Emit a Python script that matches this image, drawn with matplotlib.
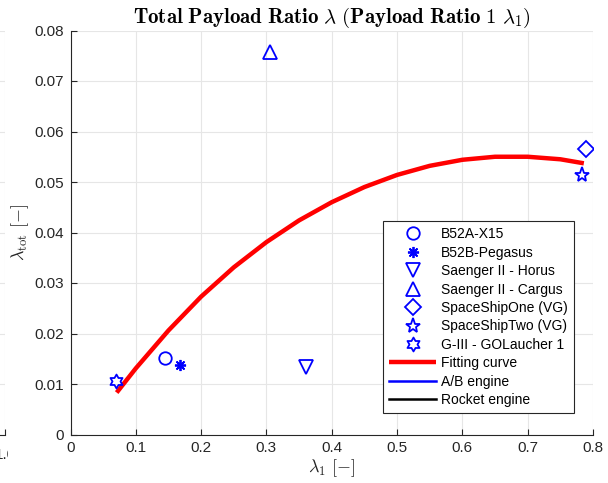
import matplotlib
matplotlib.use("Agg")
import matplotlib.pyplot as plt
import numpy as np
from matplotlib.path import Path
from matplotlib.lines import Line2D
from matplotlib.transforms import Bbox, TransformedBbox, IdentityTransform

plt.rcParams['mathtext.fontset'] = 'cm'
plt.rcParams['font.family'] = ['Liberation Sans', 'DejaVu Sans']

# ---- data ----
names = ["B52A-X15", "B52B-Pegasus", "Saenger II - Horus", "Saenger II - Cargus",
         "SpaceShipOne (VG)", "SpaceShipTwo (VG)", "G-III - GOLaucher 1"]
lam1 = [0.144, 0.168, 0.361, 0.3055, 0.790, 0.783, 0.069]
lamtot = [0.0152, 0.0138, 0.0134, 0.0757, 0.0565, 0.0514, 0.0106]

fit_x = [0.0707, 0.10, 0.15, 0.20, 0.25, 0.30, 0.35, 0.40, 0.45, 0.50,
         0.55, 0.60, 0.65, 0.70, 0.75, 0.786]
fit_y = [0.0083, 0.0131, 0.0206, 0.0273, 0.0331, 0.0381, 0.0424, 0.0460, 0.0490, 0.0514,
         0.0532, 0.0544, 0.0550, 0.0550, 0.0545, 0.0537]

xticks = [0, 0.1, 0.2, 0.3, 0.4, 0.5, 0.6, 0.7, 0.8]
xticklabels = ["0", "0.1", "0.2", "0.3", "0.4", "0.5", "0.6", "0.7", "0.8"]
yticks = [0, 0.01, 0.02, 0.03, 0.04, 0.05, 0.06, 0.07, 0.08]
yticklabels = ["0", "0.01", "0.02", "0.03", "0.04", "0.05", "0.06", "0.07", "0.08"]

hexagram = Path.unit_regular_star(6, 0.57735)
markers = ['o', (8, 2, 0), 'v', '^', 'D', '*', hexagram]
msizes = [9, 8, 10, 10, 8, 11, 10]

DARK = '#262626'
GRID = '#e6e6e6'
BLUE = '#0000ff'

fig = plt.figure(figsize=(6.08, 4.83), dpi=100)
W, H = 608, 483
left, right, top, bottom = 70.5, 593, 30.5, 434.5
ax = fig.add_axes([left / W, (H - bottom) / H, (right - left) / W, (bottom - top) / H])

# neighbouring subplot fragment
ax0 = fig.add_axes([-0.5, (H - bottom) / H, 0.5 + 5 / W, (bottom - top) / H])
ax0.set_xlim(0, 1)
ax0.set_ylim(0, 0.08)
ax0.set_xticks([0.5, 1.0])
ax0.set_yticks(yticks)
ax0.set_xticklabels([])
ax0.set_yticklabels([])
ax0.grid(True, color=GRID, linewidth=0.8)
for s in ['top', 'right', 'left']:
    ax0.spines[s].set_visible(False)
ax0.spines['bottom'].set_color(DARK)
ax0.tick_params(direction='in', length=4, color=DARK, left=False)
t = fig.text(5 / W, (H - 455) / H, "1.0", ha='center', va='center', fontsize=11, color=DARK)
t.set_clip_on(True)
t.set_clip_box(TransformedBbox(Bbox([[0, 0], [8, H]]), IdentityTransform()))

# main plot
for i in range(len(names)):
    ax.plot(lam1[i], lamtot[i], linestyle='none', marker=markers[i], markersize=msizes[i],
            markerfacecolor='none', markeredgecolor=BLUE, markeredgewidth=1.3,
            label=names[i], zorder=4)
ax.plot(fit_x, fit_y, color='#ff0000', linewidth=3.2, label='Fitting curve', zorder=3,
        solid_capstyle='butt', solid_joinstyle='round')

ax.set_xlim(0, 0.8)
ax.set_ylim(0, 0.08)
ax.set_xticks(xticks)
ax.set_xticklabels(xticklabels)
ax.set_yticks(yticks)
ax.set_yticklabels(yticklabels)
ax.grid(True, color=GRID, linewidth=0.8)
ax.set_axisbelow(True)
for s in ['top', 'right']:
    ax.spines[s].set_visible(False)
for s in ['left', 'bottom']:
    ax.spines[s].set_color(DARK)
    ax.spines[s].set_linewidth(0.8)
ax.tick_params(direction='in', length=4, color=DARK, labelcolor=DARK, labelsize=11, pad=5)

ax.set_title(r"$\mathbf{Total\ Payload\ Ratio}\ \lambda\ \mathbf{(Payload\ Ratio\ 1}\ \lambda_1\mathbf{)}$",
             fontsize=15, pad=4, color='black')
ax.set_xlabel(r"$\lambda_1\ [-]$", fontsize=13, color=DARK, labelpad=1)
ax.set_ylabel(r"$\lambda_{\rm tot}\ [-]$", fontsize=13, color=DARK, labelpad=2)

handles, labels = ax.get_legend_handles_labels()
handles.append(Line2D([], [], color=BLUE, linewidth=1.8))
labels.append('A/B engine')
handles.append(Line2D([], [], color='black', linewidth=1.8))
labels.append('Rocket engine')
leg = ax.legend(handles, labels, loc='lower left', bbox_to_anchor=(0.598, 0.052),
                borderaxespad=0, fontsize=10, fancybox=False, framealpha=1,
                edgecolor=DARK, handlelength=3.4, handletextpad=0.35,
                labelspacing=0.32, borderpad=0.45, numpoints=1)
leg.get_frame().set_linewidth(0.8)

fig.savefig("out.png", dpi=100)
